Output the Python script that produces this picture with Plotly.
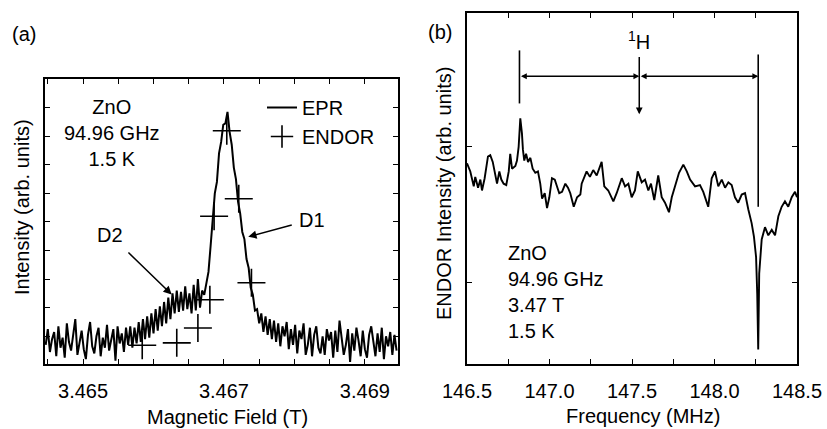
import plotly.graph_objects as go

# ---------------- panel (a): EPR + ENDOR-detected points ----------------
epr_field_start = 3.46447   # T
epr_field_step = 0.00003    # T
epr_intensity = [
    0.7, 1.25, 0.45, 0.9, 1.15, 0.3, 1.35, 0.6, 0.95, 0.25,
    1.45, 0.8, 0.5, 1.1, 1.6, 0.35, 0.85, 1.2, 0.55, 0.2,
    1.05, 1.5, 0.65, 0.4, 1.0, 1.3, 0.3, 0.95, 0.6, 1.4,
    0.5, 0.85, 1.25, 0.15, 1.35, 0.75, 1.1, 0.45, 1.3,
    0.7, 1.35, 0.6, 1.3, 0.75, 1.5, 0.8, 1.6, 0.9, 1.7,
    0.95, 1.8, 1.1, 1.95, 1.2, 2.05, 1.35, 2.2, 1.45, 2.35,
    1.6, 2.5, 1.8,
    2.6, 1.85, 2.55, 1.9, 2.75, 1.95, 2.5, 1.8, 2.8, 1.9, 3.0, 2.0, 2.6,
    2.45, 2.9, 3.25, 4.15, 5.05, 6.0, 6.4, 7.4, 7.8, 8.4,
    8.45, 8.85, 8.15, 7.7, 6.9, 6.5, 5.7, 5.3, 4.65, 4.4,
    3.7, 3.4, 2.7, 2.45, 1.9,
    1.95, 1.45, 1.8, 1.15, 1.7, 1.05, 1.6, 0.9, 1.55, 0.8,
    1.45, 0.65, 1.35, 1.0, 1.5, 0.55, 1.25, 0.7, 1.4, 0.4,
    1.2, 0.9, 1.45, 0.35, 0.7, 1.3, 0.3, 1.05, 1.35, 0.6,
    0.4, 1.0, 0.35, 1.25, 0.85, 1.15, 0.25, 1.2, 0.45, 1.55,
    0.9, 0.35, 0.7, 1.25, 0.1, 1.1, 0.5, 1.3, 0.85, 0.3,
    1.2, 0.55, 0.25, 1.05, 1.35, 0.75, 0.3, 1.1, 0.45, 1.3,
    0.2, 1.0, 0.65, 1.15, 0.35, 1.05, 0.5,
]
epr_field = [epr_field_start + i * epr_field_step for i in range(len(epr_intensity))]

endor_field = [3.46584, 3.46633, 3.46663, 3.46680, 3.46686, 3.46704, 3.46721, 3.46739]
endor_int = [0.685, 0.77, 1.29, 2.28, 5.20, 8.19, 5.81, 2.87]

a_xticks = [3.4645, 3.465, 3.4655, 3.466, 3.4665, 3.467, 3.4675, 3.468, 3.4685, 3.469]
a_xlabels = ["", "3.465", "", "", "", "3.467", "", "", "", "3.469"]

# ---------------- panel (b): ENDOR spectrum ----------------
b_freq = [
    146.500, 146.520, 146.541, 146.550, 146.567, 146.581, 146.591, 146.607, 146.627, 146.641,
    146.656, 146.672, 146.682, 146.696, 146.708, 146.722, 146.738, 146.753, 146.762, 146.773,
    146.793, 146.803, 146.813, 146.823, 146.833, 146.839, 146.847, 146.858, 146.870, 146.884,
    146.898, 146.914, 146.930, 146.944, 146.955, 146.971, 146.985, 146.999, 147.015, 147.032,
    147.045, 147.059, 147.076, 147.096, 147.112, 147.126, 147.147, 147.167, 147.187, 147.195,
    147.225, 147.245, 147.265, 147.286, 147.316, 147.332, 147.356, 147.387, 147.407, 147.438,
    147.458, 147.478, 147.498, 147.518, 147.535, 147.559, 147.579, 147.599, 147.615, 147.635,
    147.659, 147.680, 147.700, 147.724, 147.741, 147.761, 147.785, 147.811, 147.832, 147.852,
    147.882, 147.912, 147.932, 147.962, 147.983, 148.003, 148.023, 148.044, 148.064, 148.084,
    148.104, 148.124, 148.144, 148.165, 148.185, 148.205, 148.225, 148.239, 148.252, 148.259,
    148.265, 148.271, 148.286, 148.306, 148.326, 148.347, 148.367, 148.387, 148.407, 148.427,
    148.447, 148.468, 148.488, 148.500,
]
b_int = [
    1.88, 1.82, 1.71, 1.78, 1.70, 1.76, 1.68, 1.77, 1.93, 1.94,
    1.89, 1.78, 1.73, 1.82, 1.76, 1.73, 1.72, 1.82, 1.95, 1.84,
    1.86, 1.90, 2.00, 2.21, 2.10, 1.98, 1.90, 1.95, 1.89, 1.92,
    1.84, 1.81, 1.82, 1.73, 1.62, 1.66, 1.55, 1.63, 1.77, 1.76,
    1.71, 1.66, 1.67, 1.73, 1.70, 1.66, 1.56, 1.63, 1.65, 1.73,
    1.82, 1.78, 1.83, 1.79, 1.89, 1.71, 1.68, 1.60, 1.66, 1.77,
    1.71, 1.73, 1.63, 1.68, 1.82, 1.74, 1.76, 1.68, 1.73, 1.61,
    1.79, 1.63, 1.59, 1.52, 1.63, 1.72, 1.81, 1.87, 1.82, 1.76,
    1.71, 1.72, 1.67, 1.56, 1.77, 1.82, 1.71, 1.76, 1.70, 1.74,
    1.72, 1.63, 1.59, 1.65, 1.66, 1.54, 1.44, 1.34, 1.19, 0.92,
    0.51, 1.07, 1.32, 1.41, 1.35, 1.39, 1.35, 1.49, 1.56, 1.60,
    1.56, 1.63, 1.67, 1.63,
]

b_xticks = [146.5, 146.75, 147.0, 147.25, 147.5, 147.75, 148.0, 148.25, 148.5]
b_xlabels = ["146.5", "", "147.0", "", "147.5", "", "148.0", "", "148.5"]

# 1H line positions (MHz)
h_low, h_center, h_high = 146.818, 147.544, 148.265

FONT = "Arial, Liberation Sans, Helvetica, sans-serif"
W, H = 827, 429

fig = go.Figure()
fig.add_trace(go.Scatter(x=epr_field, y=epr_intensity, mode="lines", name="EPR",
                         line=dict(color="black", width=2.0), xaxis="x", yaxis="y"))
fig.add_trace(go.Scatter(x=endor_field, y=endor_int, mode="markers", name="ENDOR",
                         marker=dict(symbol="cross-thin", size=20,
                                     line=dict(color="black", width=1.6)),
                         xaxis="x", yaxis="y"))
fig.add_trace(go.Scatter(x=b_freq, y=b_int, mode="lines", showlegend=False,
                         line=dict(color="black", width=1.9), xaxis="x2", yaxis="y2"))

axis_common = dict(showline=True, linecolor="black", linewidth=1.5, mirror="ticks",
                   ticks="inside", ticklen=5, tickcolor="black", tickwidth=1.2,
                   showgrid=False, zeroline=False, automargin=False,
                   tickfont=dict(family=FONT, size=20, color="black"))

fig.update_layout(
    width=W, height=H,
    margin=dict(l=0, r=0, t=0, b=0, pad=0, autoexpand=False),
    paper_bgcolor="white", plot_bgcolor="white",
    font=dict(family=FONT, size=20, color="black"),
    xaxis=dict(domain=[45 / W, 398 / W], range=[3.46446, 3.46947],
               tickmode="array", tickvals=a_xticks, ticktext=a_xlabels,
               ticklabelstandoff=8, anchor="y", **axis_common),
    yaxis=dict(domain=[1 - 364 / H, 1 - 79 / H], range=[0.03, 10.0],
               tickmode="array", tickvals=list(range(1, 10)), showticklabels=False,
               anchor="x", **axis_common),
    xaxis2=dict(domain=[467 / W, 797 / W], range=[146.5, 148.5],
                tickmode="array", tickvals=b_xticks, ticktext=b_xlabels,
                ticklabelstandoff=8, anchor="y2", **axis_common),
    yaxis2=dict(domain=[1 - 364 / H, 1 - 13 / H], range=[0.404, 2.985],
                tickmode="array", tickvals=[1, 2, 3], showticklabels=False,
                anchor="x2", **axis_common),
    legend=dict(x=262 / W, y=1 - 88 / H, xanchor="left", yanchor="top",
                bgcolor="rgba(0,0,0,0)", borderwidth=0, itemwidth=30,
                font=dict(family=FONT, size=20, color="black"),
                tracegroupgap=0),
    showlegend=True,
)

ann = []
def ptext(text, px, py, size=20, xanchor="center", align="center", textangle=0):
    ann.append(dict(text=text, x=px / W, y=1 - py / H, xref="paper", yref="paper",
                    showarrow=False, xanchor=xanchor, yanchor="middle", align=align,
                    textangle=textangle, font=dict(family=FONT, size=size, color="black")))

ptext("(a)", 24, 34)
ptext("(b)", 440, 32)
ptext("Intensity (arb. units)", 22, 207, textangle=-90)
ptext("Magnetic Field (T)", 227, 417)
ptext("ENDOR Intensity (arb. units)", 444, 194, textangle=-90)
ptext("Frequency (MHz)", 643, 416)

# panel (a) sample info and labels (labels carry their pointer arrows)
ann.append(dict(text="ZnO<br>94.96 GHz<br>1.5 K", x=3.465411, y=8.12, xref="x", yref="y",
                showarrow=False, xanchor="center", yanchor="middle", align="center",
                font=dict(family=FONT, size=20)))
ann.append(dict(text="D1", x=3.467345, y=4.48, ax=3.46825, ay=5.08, xref="x", yref="y",
                axref="x", ayref="y", showarrow=True, arrowhead=2, arrowsize=1.1,
                arrowwidth=1.5, arrowcolor="black", startstandoff=6,
                font=dict(family=FONT, size=20)))
ann.append(dict(text="D2", x=3.466258, y=2.46, ax=3.46538, ay=4.56, xref="x", yref="y",
                axref="x", ayref="y", showarrow=True, arrowhead=2, arrowsize=1.1,
                arrowwidth=1.5, arrowcolor="black", startstandoff=8,
                font=dict(family=FONT, size=20)))

# panel (b) sample info
ann.append(dict(text="ZnO<br>94.96 GHz<br>3.47 T<br>1.5 K", x=506 / W, y=1 - 291.5 / H,
                xref="paper", yref="paper", showarrow=False, xanchor="left",
                yanchor="middle", align="left", font=dict(family=FONT, size=20)))
# 1H label with the central down arrow
ann.append(dict(text="<sup>1</sup>H", x=h_center, y=2.24, ax=h_center, ay=2.78,
                xref="x2", yref="y2", axref="x2", ayref="y2", showarrow=True,
                arrowhead=2, arrowsize=0.9, arrowwidth=1.5, arrowcolor="black",
                startstandoff=2, font=dict(family=FONT, size=20)))
# double arrows
for a0, a1 in [(h_low, h_center), (h_center, h_high)]:
    ann.append(dict(text="", x=a1, y=2.52, ax=a0, ay=2.52, xref="x2", yref="y2",
                    axref="x2", ayref="y2", showarrow=True, arrowhead=2, startarrowhead=2,
                    arrowside="end+start", arrowsize=0.9, startarrowsize=0.9,
                    arrowwidth=1.3, arrowcolor="black"))

shapes = [
    dict(type="line", xref="x2", yref="y2", x0=h_low, x1=h_low, y0=2.32, y1=2.71,
         line=dict(color="black", width=1.6)),
    dict(type="line", xref="x2", yref="y2", x0=h_high, x1=h_high, y0=1.56, y1=2.68,
         line=dict(color="black", width=1.6)),
]

fig.update_layout(annotations=ann, shapes=shapes)
fig.write_html("out.html")
